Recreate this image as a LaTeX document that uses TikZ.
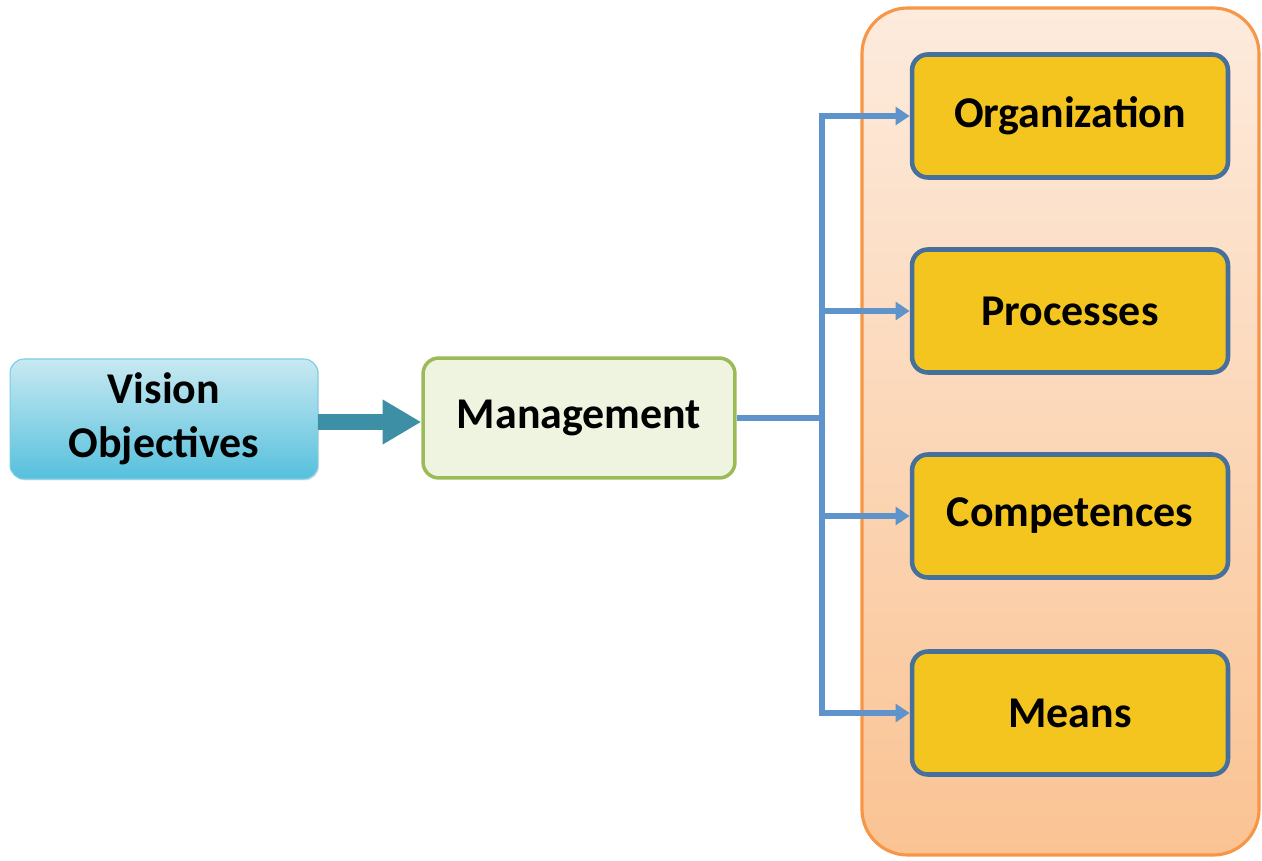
\documentclass[tikz,border=0pt]{standalone}
\usepackage{fontspec}
\setmainfont{Carlito}
\usetikzlibrary{arrows.meta, shadows}

\definecolor{visiontop}{HTML}{C8E9F1}
\definecolor{visionbot}{HTML}{56C0DD}
\definecolor{mgmtline}{HTML}{9BBB59}
\definecolor{mgmtfill}{HTML}{EEF4DF}
\definecolor{panelline}{HTML}{F79646}
\definecolor{paneltop}{HTML}{FDEBDD}
\definecolor{panelbot}{HTML}{FAC393}
\definecolor{partfill}{HTML}{F5C51F}
\definecolor{partline}{HTML}{46709B}
\definecolor{linkcol}{HTML}{5F93CB}
\definecolor{bigarrow}{HTML}{3D8FA6}

\begin{document}
\begin{tikzpicture}[x=0.02cm,y=-0.02cm,
    lbl/.style={font=\fontsize{25}{31}\selectfont\bfseries, align=center, text=black},
    vision/.style={lbl, rounded corners=8pt, top color=visiontop, bottom color=visionbot,
      draw=visionbot!80!white, line width=0.6pt, minimum width=6.16cm, minimum height=2.4cm,
      drop shadow={shadow xshift=0.6pt, shadow yshift=-0.8pt, opacity=0.25}},
    mgmt/.style={lbl, rounded corners=9pt, fill=mgmtfill, draw=mgmtline, line width=2pt,
      minimum width=6.24cm, minimum height=2.4cm},
    part/.style={lbl, rounded corners=9pt, fill=partfill, draw=partline, line width=2.6pt,
      minimum width=6.32cm, minimum height=2.46cm},
    link/.style={draw=linkcol, line width=3.2pt},
    linkarrow/.style={link, -{Triangle[length=8pt,width=10pt]}}]

  \useasboundingbox (0,0) rectangle (1262,861);

  % panel on the right
  \draw[panelline, line width=1.8pt, rounded corners=26pt, top color=paneltop, bottom color=panelbot]
    (862,8) rectangle (1259,855);

  \node[vision] (vision) at (164,419) {Vision\\Objectives};
  \node[mgmt] (mgmt) at (579,418) {\raisebox{-3pt}{Management}};

  \node[part] (org) at (1070,116) {\raisebox{4pt}{Organization}};
  \node[part] (proc) at (1070,311) {Processes};
  \node[part] (comp) at (1070,516) {Competences};
  \node[part] (means) at (1070,713) {Means};

  \draw[bigarrow, line width=9pt, -{Triangle[length=22pt,width=24pt]}] (vision.east |- 0,422) -- (mgmt.west |- 0,422);

  % tree of links
  \coordinate (trunk) at (822,418);
  \draw[link] (mgmt.east) -- (trunk);
  \draw[link, line cap=rect] (trunk |- org.west) -- (trunk |- means.west);
  \foreach \b in {org, proc, comp, means}
    \draw[linkarrow] (trunk |- \b.west) -- (\b.west);
\end{tikzpicture}
\end{document}
